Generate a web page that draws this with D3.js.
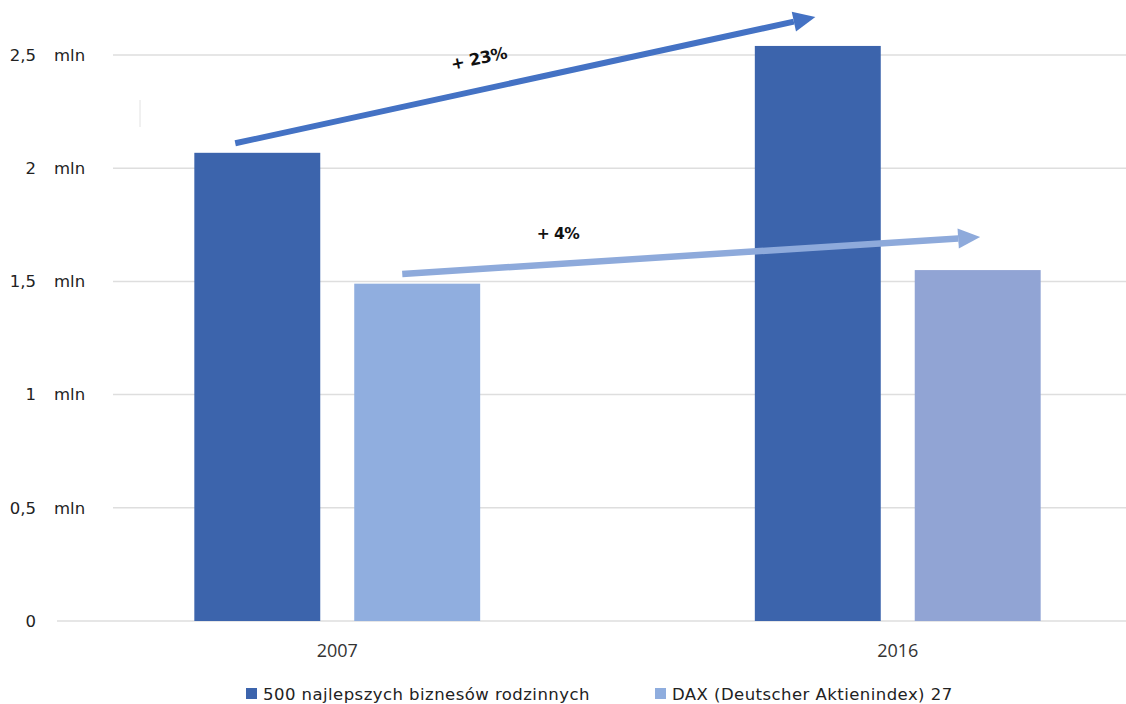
<!DOCTYPE html>
<html><head><meta charset="utf-8">
<script src="https://cdn.jsdelivr.net/npm/d3@7"></script>
<style>
html,body{margin:0;padding:0;background:#fff;}
svg{display:block;font-family:"DejaVu Sans",sans-serif;}
</style></head>
<body><svg id="c" width="1126" height="704"></svg>
<script>
const categories = ["2007", "2016"];
const seriesNames = ["500 najlepszych biznesów rodzinnych", "DAX (Deutscher Aktienindex) 27"];
const familyValues = [2.068, 2.54];
const daxValues = [1.49, 1.55];
const tickValues = [0, 0.5, 1, 1.5, 2, 2.5];
const tickNumbers = ["0", "0,5", "1", "1,5", "2", "2,5"];
const tickUnit = "mln";
const arrowLabels = ["+ 23%", "+ 4%"];
// arrows: start/end as [category position (0 = 2007, 1 = 2016), value]
const arrowStarts = [[-0.182, 2.11], [0.116, 1.533]];
const arrowEnds = [[0.853, 2.668], [1.147, 1.696]];

const svg = d3.select("#c");
const colors = ["#3C64AC", "#8FADDE"];
const barColors = [["#3C64AC", "#90AEDF"], ["#3C64AC", "#91A4D4"]];

const y = d3.scaleLinear().domain([0, 2.5]).range([621, 55]);
const x = d3.scaleBand().domain(categories).range([57, 1178]);
const xPos = d3.scaleLinear().domain([0, 1]).range([x("2007") + x.bandwidth() / 2, x("2016") + x.bandwidth() / 2]);
const inner = d3.scaleBand().domain([0, 1]).range([x.bandwidth() * 0.245, x.bandwidth() * 0.755]).paddingInner(0.2125);

// gridlines
svg.append("g").selectAll("line").data(tickValues).join("line")
  .attr("x1", d => d === 0 ? 57 : 113).attr("x2", 1126)
  .attr("y1", d => y(d)).attr("y2", d => y(d))
  .attr("stroke", "#dedede").attr("stroke-width", 1.5);

// small vertical mark
svg.append("line").attr("x1", 140).attr("x2", 140).attr("y1", 100).attr("y2", 127)
  .attr("stroke", "#e2e2e2").attr("stroke-width", 1);

// y labels
const yl = svg.append("g").attr("font-size", 16.5);
tickValues.forEach((v, i) => {
  yl.append("text").attr("x", 36).attr("y", y(v)).attr("dy", "0.35em")
    .attr("text-anchor", "end").attr("fill", "#222").text(tickNumbers[i]);
  if (v !== 0) yl.append("text").attr("x", 54).attr("y", y(v)).attr("dy", "0.35em")
    .attr("fill", "#222").text(tickUnit);
});

// bars
const series = [familyValues, daxValues];
categories.forEach((c, ci) => {
  series.forEach((vals, si) => {
    svg.append("rect")
      .attr("x", x(c) + inner(si)).attr("width", inner.bandwidth())
      .attr("y", y(vals[ci])).attr("height", y(0) - y(vals[ci]))
      .attr("fill", barColors[ci][si]);
  });
});

// x labels
svg.append("g").selectAll("text").data(categories).join("text")
  .attr("x", d => x(d) + x.bandwidth() / 2).attr("y", 657)
  .attr("text-anchor", "middle").attr("font-size", 18).attr("fill", "#333")
  .attr("font-family", "Open Sans, sans-serif")
  .text(d => d);

// arrows
const arrowColors = ["#4472C4", "#8EAADB"];
const arrowWidths = [6, 6.5];
arrowStarts.forEach((s, i) => {
  const e = arrowEnds[i];
  const x1 = xPos(s[0]), y1 = y(s[1]), x2 = xPos(e[0]), y2 = y(e[1]);
  const ang = Math.atan2(y2 - y1, x2 - x1);
  const hl = 22, hw = 10;
  const bx = x2 - hl * Math.cos(ang), by = y2 - hl * Math.sin(ang);
  svg.append("line").attr("x1", x1).attr("y1", y1).attr("x2", bx).attr("y2", by)
    .attr("stroke", arrowColors[i]).attr("stroke-width", arrowWidths[i]);
  const px = -Math.sin(ang) * hw, py = Math.cos(ang) * hw;
  svg.append("path")
    .attr("d", `M${x2},${y2}L${bx + px},${by + py}L${bx - px},${by - py}Z`)
    .attr("fill", arrowColors[i]);
});

// arrow labels
svg.append("text").attr("transform", "translate(480,64) rotate(-12)")
  .attr("text-anchor", "middle").attr("font-size", 16.5).attr("font-weight", "bold")
  .attr("fill", "#111").attr("letter-spacing", "-0.5").text(arrowLabels[0]);
svg.append("text").attr("x", 558).attr("y", 239)
  .attr("text-anchor", "middle").attr("font-size", 15.5).attr("font-weight", "bold")
  .attr("fill", "#111").attr("letter-spacing", "-0.5").text(arrowLabels[1]);

// legend
const leg = svg.append("g");
const legX = [246, 655];
seriesNames.forEach((n, i) => {
  leg.append("rect").attr("x", legX[i]).attr("y", 688).attr("width", 11).attr("height", 11)
    .attr("fill", colors[i]);
  leg.append("text").attr("x", legX[i] + 17).attr("y", 699.5).attr("font-size", 16.5)
    .attr("letter-spacing", "0.45").attr("fill", "#222").text(n);
});
</script></body></html>
